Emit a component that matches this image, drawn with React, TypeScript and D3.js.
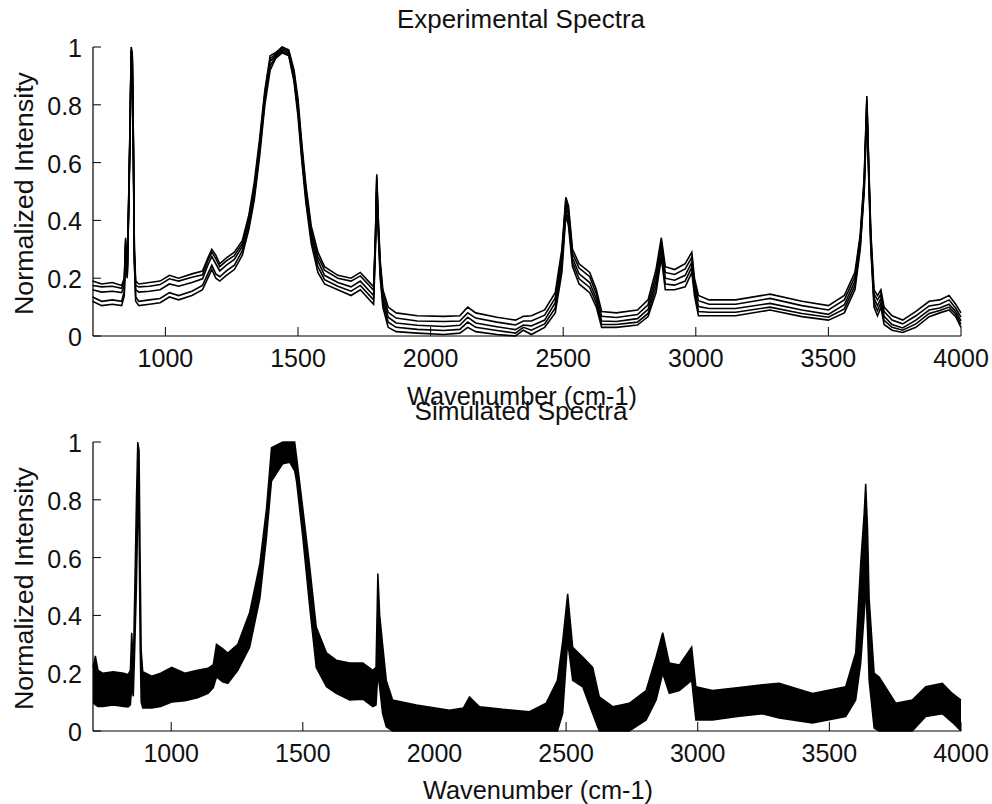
import React from "react";
import * as d3 from "d3";

// ---------- Experimental spectra (top panel) ----------
const EXP_WN = [
  725, 760, 800, 835, 845, 850, 856, 862, 867, 871,
  875, 879, 883, 888, 900, 940, 980, 1015, 1050, 1100,
  1140, 1160, 1175, 1190, 1205, 1230, 1260, 1290, 1315, 1335,
  1355, 1375, 1395, 1415, 1440, 1465, 1485, 1500, 1515, 1530,
  1550, 1575, 1600, 1650, 1700, 1735, 1765, 1785, 1792, 1797,
  1803, 1810, 1820, 1840, 1870, 1950, 2050, 2110, 2140, 2170,
  2250, 2320, 2350, 2380, 2430, 2470, 2495, 2510, 2520, 2535,
  2560, 2600, 2625, 2645, 2700, 2780, 2820, 2850, 2870, 2885,
  2920, 2960, 2985, 2995, 3010, 3050, 3150, 3280, 3400, 3500,
  3560, 3600, 3620, 3635, 3645, 3652, 3660, 3672, 3685, 3698,
  3710, 3740, 3780, 3830, 3880, 3920, 3955, 3980, 4000,
];

const EXP_1 = [
  0.19, 0.18, 0.185, 0.175, 0.2, 0.34, 0.22, 0.5, 0.75, 1.0,
  0.98, 0.7, 0.3, 0.19, 0.18, 0.185, 0.19, 0.21, 0.2, 0.215,
  0.225, 0.27, 0.3, 0.28, 0.25, 0.27, 0.29, 0.33, 0.42, 0.53,
  0.68, 0.85, 0.97, 0.98, 1.0, 0.99, 0.92, 0.82, 0.66, 0.52,
  0.38, 0.29, 0.24, 0.21, 0.2, 0.22, 0.19, 0.17, 0.35, 0.56,
  0.4, 0.26, 0.16, 0.1, 0.08, 0.07, 0.068, 0.07, 0.1, 0.08,
  0.065, 0.055, 0.068, 0.07, 0.09, 0.15, 0.3, 0.48, 0.45, 0.3,
  0.25, 0.22, 0.16, 0.085, 0.08, 0.09, 0.125, 0.23, 0.34, 0.24,
  0.23, 0.25, 0.29, 0.2, 0.14, 0.125, 0.125, 0.145, 0.12, 0.105,
  0.14, 0.22, 0.35, 0.55, 0.83, 0.6, 0.36, 0.16, 0.14, 0.16,
  0.1, 0.07, 0.055, 0.085, 0.12, 0.125, 0.14, 0.11, 0.08,
];

const EXP_2 = [
  0.175, 0.17, 0.172, 0.165, 0.19, 0.33, 0.21, 0.49, 0.74, 0.99,
  0.97, 0.69, 0.29, 0.175, 0.17, 0.172, 0.178, 0.198, 0.19, 0.203,
  0.212, 0.26, 0.29, 0.268, 0.24, 0.26, 0.278, 0.32, 0.41, 0.515,
  0.665, 0.84, 0.96, 0.975, 0.995, 0.985, 0.91, 0.8, 0.645, 0.505,
  0.365, 0.275, 0.228, 0.2, 0.19, 0.208, 0.178, 0.158, 0.34, 0.55,
  0.39, 0.245, 0.145, 0.082, 0.062, 0.052, 0.05, 0.052, 0.08, 0.062,
  0.048, 0.038, 0.052, 0.052, 0.072, 0.132, 0.285, 0.47, 0.435, 0.285,
  0.235, 0.205, 0.145, 0.068, 0.064, 0.074, 0.108, 0.21, 0.325, 0.22,
  0.213, 0.232, 0.272, 0.185, 0.122, 0.11, 0.11, 0.13, 0.105, 0.09,
  0.125, 0.205, 0.34, 0.54, 0.82, 0.59, 0.345, 0.145, 0.125, 0.145,
  0.085, 0.055, 0.042, 0.07, 0.104, 0.11, 0.125, 0.096, 0.065,
];

const EXP_3 = [
  0.16, 0.152, 0.155, 0.15, 0.175, 0.32, 0.21, 0.48, 0.73, 0.985,
  0.965, 0.68, 0.28, 0.16, 0.152, 0.155, 0.16, 0.18, 0.172, 0.185,
  0.198, 0.245, 0.275, 0.25, 0.225, 0.245, 0.265, 0.31, 0.4, 0.505,
  0.655, 0.83, 0.95, 0.97, 0.99, 0.98, 0.9, 0.79, 0.635, 0.49,
  0.35, 0.26, 0.21, 0.185, 0.17, 0.19, 0.16, 0.14, 0.33, 0.535,
  0.375, 0.23, 0.13, 0.065, 0.045, 0.037, 0.033, 0.037, 0.065, 0.045,
  0.032, 0.022, 0.038, 0.035, 0.055, 0.115, 0.265, 0.455, 0.42, 0.27,
  0.215, 0.185, 0.128, 0.052, 0.05, 0.06, 0.092, 0.19, 0.31, 0.2,
  0.193, 0.21, 0.255, 0.168, 0.102, 0.095, 0.095, 0.113, 0.09, 0.075,
  0.108, 0.19, 0.325, 0.525, 0.805, 0.575, 0.33, 0.13, 0.105, 0.13,
  0.068, 0.04, 0.028, 0.055, 0.09, 0.097, 0.11, 0.085, 0.052,
];

const EXP_4 = [
  0.135, 0.12, 0.125, 0.12, 0.155, 0.31, 0.205, 0.46, 0.71, 0.975,
  0.955, 0.66, 0.26, 0.135, 0.12, 0.125, 0.13, 0.15, 0.14, 0.155,
  0.175, 0.215, 0.245, 0.215, 0.205, 0.225, 0.245, 0.295, 0.385, 0.485,
  0.635, 0.815, 0.935, 0.965, 0.985, 0.975, 0.89, 0.775, 0.615, 0.475,
  0.335, 0.24, 0.195, 0.172, 0.155, 0.175, 0.145, 0.125, 0.315, 0.515,
  0.36, 0.215, 0.115, 0.048, 0.03, 0.023, 0.019, 0.023, 0.048, 0.03,
  0.019, 0.01, 0.03, 0.02, 0.042, 0.097, 0.24, 0.435, 0.4, 0.255,
  0.198, 0.168, 0.114, 0.04, 0.04, 0.048, 0.078, 0.17, 0.29, 0.18,
  0.176, 0.19, 0.238, 0.154, 0.085, 0.082, 0.082, 0.1, 0.078, 0.065,
  0.094, 0.175, 0.31, 0.51, 0.79, 0.56, 0.315, 0.115, 0.088, 0.115,
  0.054, 0.03, 0.02, 0.042, 0.078, 0.088, 0.1, 0.076, 0.04,
];

const EXP_5 = [
  0.12, 0.105, 0.11, 0.105, 0.14, 0.3, 0.2, 0.45, 0.7, 0.97,
  0.95, 0.65, 0.25, 0.12, 0.105, 0.11, 0.115, 0.135, 0.125, 0.14,
  0.16, 0.2, 0.23, 0.2, 0.19, 0.21, 0.23, 0.28, 0.37, 0.47,
  0.62, 0.8, 0.92, 0.96, 0.98, 0.97, 0.88, 0.76, 0.6, 0.46,
  0.32, 0.22, 0.18, 0.16, 0.14, 0.16, 0.13, 0.11, 0.3, 0.5,
  0.35, 0.2, 0.1, 0.03, 0.015, 0.01, 0.005, 0.01, 0.03, 0.015,
  0.005, 0.0, 0.02, 0.005, 0.03, 0.08, 0.22, 0.42, 0.38, 0.24,
  0.18, 0.15, 0.1, 0.03, 0.03, 0.038, 0.067, 0.15, 0.27, 0.16,
  0.16, 0.17, 0.22, 0.14, 0.07, 0.07, 0.07, 0.09, 0.067, 0.055,
  0.08, 0.16, 0.3, 0.5, 0.78, 0.55, 0.3, 0.1, 0.07, 0.1,
  0.04, 0.02, 0.012, 0.03, 0.067, 0.08, 0.09, 0.067, 0.03,
];

const EXP_SERIES = [EXP_1, EXP_2, EXP_3, EXP_4, EXP_5];

// ---------- Simulated spectra (bottom panel): envelope of the bundle ----------
const SIM_WN = [
  703, 712, 722, 740, 780, 820, 836, 845, 850, 856,
  862, 868, 873, 878, 882, 886, 892, 926, 960, 1002,
  1052, 1100, 1140, 1160, 1172, 1195, 1215, 1253, 1298, 1337,
  1362, 1381, 1424, 1450, 1469, 1476, 1500, 1526, 1551, 1590,
  1627, 1678, 1728, 1766, 1778, 1785, 1792, 1803, 1817, 1841,
  1931, 2057, 2110, 2133, 2171, 2260, 2361, 2424, 2467, 2487,
  2506, 2525, 2563, 2601, 2626, 2677, 2740, 2804, 2842, 2867,
  2892, 2930, 2977, 2993, 3056, 3150, 3246, 3309, 3436, 3562,
  3600, 3619, 3632, 3638, 3645, 3651, 3670, 3689, 3752, 3815,
  3866, 3929, 3967, 4000,
];

const SIM_UPPER = [
  0.22, 0.26, 0.21, 0.2, 0.205, 0.2, 0.195, 0.21, 0.34, 0.22,
  0.5, 0.8, 1.0, 0.97, 0.6, 0.28, 0.205, 0.19, 0.2, 0.22,
  0.2, 0.21, 0.217, 0.23, 0.3, 0.285, 0.27, 0.3, 0.41, 0.58,
  0.77, 0.98, 1.0, 1.0, 1.0, 0.95, 0.77, 0.57, 0.36, 0.27,
  0.245, 0.235, 0.235, 0.21, 0.22, 0.545, 0.4, 0.3, 0.175, 0.107,
  0.09, 0.072, 0.08, 0.118, 0.084, 0.075, 0.067, 0.096, 0.175, 0.31,
  0.475, 0.29, 0.256, 0.22, 0.118, 0.084, 0.096, 0.14, 0.256, 0.34,
  0.235, 0.228, 0.29, 0.153, 0.14, 0.15, 0.16, 0.165, 0.13, 0.153,
  0.27, 0.58, 0.75, 0.855, 0.7, 0.46, 0.2, 0.187, 0.096, 0.107,
  0.153, 0.165, 0.13, 0.107,
];

const SIM_LOWER = [
  0.1, 0.09, 0.085, 0.085, 0.09, 0.085, 0.083, 0.09, 0.15, 0.12,
  0.3, 0.5, 0.75, 0.7, 0.3, 0.1, 0.08, 0.08, 0.085, 0.1,
  0.105, 0.115, 0.13, 0.15, 0.187, 0.17, 0.165, 0.21, 0.29, 0.46,
  0.67, 0.865, 0.925, 0.93, 0.9, 0.865, 0.67, 0.43, 0.22, 0.153,
  0.13, 0.107, 0.11, 0.084, 0.09, 0.2, 0.15, 0.06, 0.015, 0.0,
  0.0, 0.0, 0.0, 0.0, 0.0, 0.0, 0.0, 0.0, 0.0, 0.06,
  0.31, 0.175, 0.153, 0.06, 0.0, 0.0, 0.0, 0.038, 0.107, 0.2,
  0.13, 0.14, 0.175, 0.038, 0.038, 0.05, 0.06, 0.045, 0.028, 0.05,
  0.107, 0.235, 0.4, 0.5, 0.35, 0.175, 0.01, 0.0, 0.0, 0.0,
  0.05, 0.06, 0.03, 0.0,
];

// ---------- Axes ----------
const X_TICKS = [1000, 1500, 2000, 2500, 3000, 3500, 4000];
const Y_TICKS = [0, 0.2, 0.4, 0.6, 0.8, 1];
const Y_TICK_LABELS = ["0", "0.2", "0.4", "0.6", "0.8", "1"];

const TOP_TITLE = "Experimental Spectra";
const BOTTOM_TITLE = "Simulated Spectra";
const X_LABEL = "Wavenumber (cm-1)";
const Y_LABEL = "Normalized Intensity";

const FONT = "'Liberation Sans', Arial, Helvetica, sans-serif";
const W = 992;
const H = 804;
const X0 = 93;
const X1 = 961;

type PanelProps = {
  yTop: number;
  yBottom: number;
  xDomain: [number, number];
  title: string;
  titleBaseline: number;
  xLabelBaseline: number;
  xLabelCenter: number;
  children: (x: d3.ScaleLinear<number, number>, y: d3.ScaleLinear<number, number>) => React.ReactNode;
};

function Panel({ yTop, yBottom, xDomain, title, titleBaseline, xLabelBaseline, xLabelCenter, children }: PanelProps) {
  const x = d3.scaleLinear().domain(xDomain).range([X0, X1]);
  const y = d3.scaleLinear().domain([0, 1]).range([yBottom, yTop]);
  const midY = (yTop + yBottom) / 2 + 2;
  return (
    <g>
      {children(x, y)}
      {/* axes */}
      <line x1={X0} x2={X0} y1={yTop} y2={yBottom} stroke="#000" strokeWidth={1.2} />
      <line x1={X0} x2={X1} y1={yBottom} y2={yBottom} stroke="#000" strokeWidth={1.2} />
      {X_TICKS.map((t) => (
        <g key={"xt" + t}>
          <line x1={x(t)} x2={x(t)} y1={yBottom} y2={yBottom - 9} stroke="#000" strokeWidth={1} />
          <text x={x(t)} y={yBottom + 31} textAnchor="middle" fontSize={25} fontFamily={FONT} fill="#111">
            {t}
          </text>
        </g>
      ))}
      {Y_TICKS.map((t, i) => (
        <g key={"yt" + t}>
          <line x1={X0} x2={X0 + 8} y1={y(t)} y2={y(t)} stroke="#000" strokeWidth={1} />
          <text x={82} y={y(t) + 10} textAnchor="end" fontSize={25} fontFamily={FONT} fill="#111">
            {Y_TICK_LABELS[i]}
          </text>
        </g>
      ))}
      <text
        transform={`translate(33, ${midY}) rotate(-90)`}
        textAnchor="middle"
        fontSize={25}
        fontFamily={FONT}
        fill="#111"
        textLength={243}
        lengthAdjust="spacingAndGlyphs"
      >
        {Y_LABEL}
      </text>
      <text
        x={521}
        y={titleBaseline}
        textAnchor="middle"
        fontSize={25}
        fontFamily={FONT}
        fill="#111"
        textLength={title === TOP_TITLE ? 248 : 213}
        lengthAdjust="spacingAndGlyphs"
      >
        {title}
      </text>
      <text
        x={xLabelCenter}
        y={xLabelBaseline}
        textAnchor="middle"
        fontSize={25}
        fontFamily={FONT}
        fill="#111"
        textLength={230}
        lengthAdjust="spacingAndGlyphs"
      >
        {X_LABEL}
      </text>
    </g>
  );
}

export default function App() {
  return (
    <svg
      width={W}
      height={H}
      viewBox={`0 0 ${W} ${H}`}
      style={{ position: "absolute", left: 0, top: 0, background: "#fff" }}
    >
      <rect x={0} y={0} width={W} height={H} fill="#fff" />
      <Panel
        yTop={47}
        yBottom={336}
        xDomain={[727, 4000]}
        title={TOP_TITLE}
        titleBaseline={28}
        xLabelBaseline={405}
        xLabelCenter={522}
      >
        {(x, y) => {
          const line = d3
            .line<number>()
            .x((_, i) => x(EXP_WN[i]))
            .y((d) => y(d))
            .curve(d3.curveLinear);
          return EXP_SERIES.map((s, k) => (
            <path key={k} d={line(s) || ""} fill="none" stroke="#000" strokeWidth={1.6} strokeLinejoin="miter" />
          ));
        }}
      </Panel>
      <Panel
        yTop={442}
        yBottom={731}
        xDomain={[703, 4000]}
        title={BOTTOM_TITLE}
        titleBaseline={420}
        xLabelBaseline={799}
        xLabelCenter={538}
      >
        {(x, y) => {
          const area = d3
            .area<number>()
            .x((_, i) => x(SIM_WN[i]))
            .y0((_, i) => y(SIM_LOWER[i]))
            .y1((d) => y(d));
          const upper = d3
            .line<number>()
            .x((_, i) => x(SIM_WN[i]))
            .y((d) => y(d));
          return (
            <g>
              <path d={area(SIM_UPPER) || ""} fill="#000" stroke="none" />
              <path d={upper(SIM_UPPER) || ""} fill="none" stroke="#000" strokeWidth={1.5} />
              <path d={upper(SIM_LOWER) || ""} fill="none" stroke="#000" strokeWidth={1.5} />
            </g>
          );
        }}
      </Panel>
    </svg>
  );
}
